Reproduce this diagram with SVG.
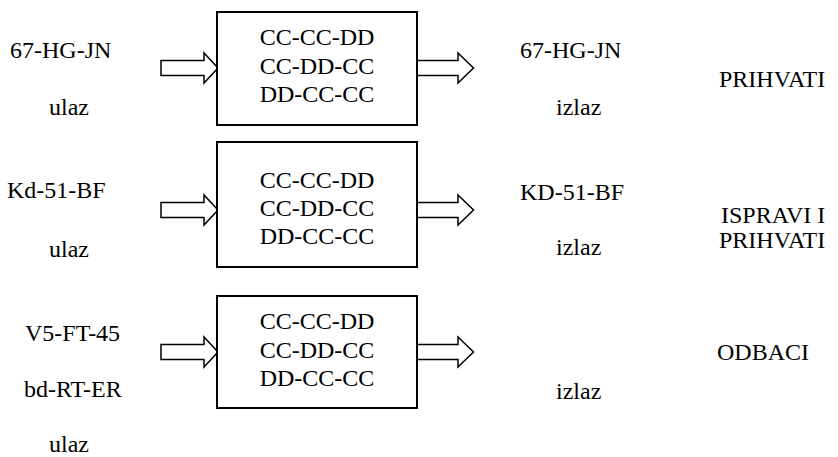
<svg xmlns="http://www.w3.org/2000/svg" width="838" height="457" viewBox="0 0 838 457">
<style>
text{font-family:"Liberation Serif","Times New Roman",serif;font-size:24px;fill:#000}
.c{text-anchor:middle}
.box{fill:#fff;stroke:#000;stroke-width:2}
.arr{fill:#fff;stroke:#000;stroke-width:1.5;stroke-linejoin:miter}
</style>
<defs>
<path id="arrowL" class="arr" d="M161,60.5 H204 V53 L218,68 L204,83 V75.5 H161 Z"/>
<path id="arrowR" class="arr" d="M417,60.5 H458 V53 L473.5,68 L458,83 V75.5 H417 Z"/>
</defs>
<g id="connectors">
<use href="#arrowL"/>
<use href="#arrowR"/>
<use href="#arrowL" y="142"/>
<use href="#arrowR" y="142"/>
<use href="#arrowL" y="284"/>
<use href="#arrowR" y="284"/>
</g>
<g id="box1">
<rect class="box" x="217" y="12" width="200" height="113"/>
<text class="c" x="317" y="45">CC-CC-DD</text>
<text class="c" x="317" y="74">CC-DD-CC</text>
<text class="c" x="317" y="102">DD-CC-CC</text>
</g>
<g id="box2">
<rect class="box" x="217" y="142" width="200" height="125"/>
<text class="c" x="317" y="188">CC-CC-DD</text>
<text class="c" x="317" y="216">CC-DD-CC</text>
<text class="c" x="317" y="244">DD-CC-CC</text>
</g>
<g id="box3">
<rect class="box" x="217" y="296" width="200" height="112"/>
<text class="c" x="317" y="329">CC-CC-DD</text>
<text class="c" x="317" y="358">CC-DD-CC</text>
<text class="c" x="317" y="386">DD-CC-CC</text>
</g>
<g id="in1">
<text x="10" y="58">67-HG-JN</text>
<text x="49" y="115">ulaz</text>
</g>
<g id="out1">
<text x="520" y="58">67-HG-JN</text>
<text x="556" y="115">izlaz</text>
</g>
<g id="res1"><text x="719" y="87">PRIHVATI</text></g>
<g id="in2">
<text x="7" y="198">Kd-51-BF</text>
<text x="49" y="257">ulaz</text>
</g>
<g id="out2">
<text x="520" y="200">KD-51-BF</text>
<text x="556" y="255">izlaz</text>
</g>
<g id="res2">
<text x="721" y="223">ISPRAVI I</text>
<text x="719" y="248">PRIHVATI</text>
</g>
<g id="in3">
<text x="25" y="341">V5-FT-45</text>
<text x="24" y="397">bd-RT-ER</text>
<text x="49" y="452">ulaz</text>
</g>
<g id="out3">
<text x="556" y="399">izlaz</text>
</g>
<g id="res3"><text x="717" y="360">ODBACI</text></g>
</svg>
